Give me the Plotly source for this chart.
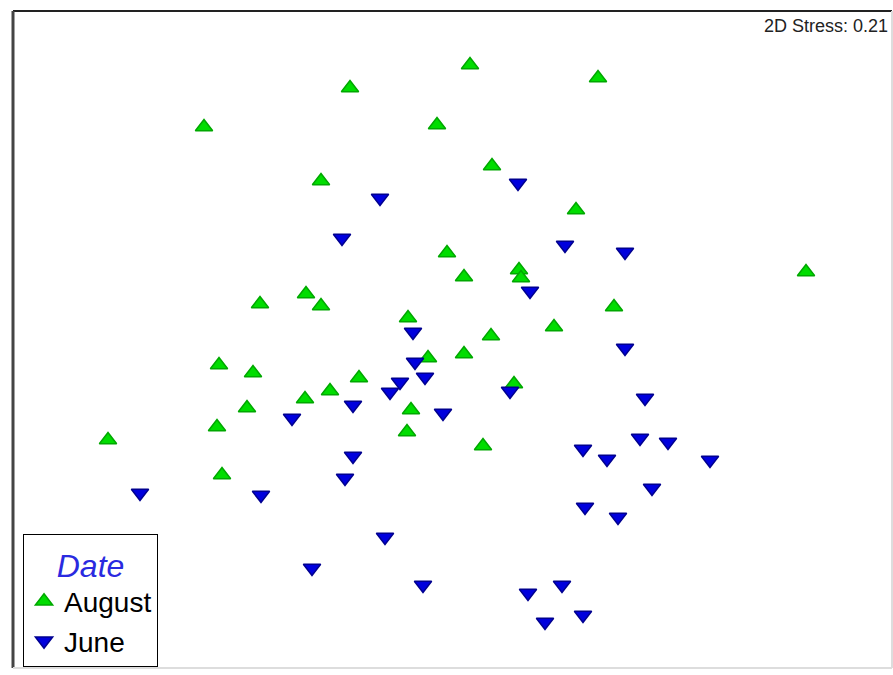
import plotly.graph_objects as go

# NMDS ordination coordinates (arbitrary MDS units)
august_x = [-2.46, -1.00, 0.20, 1.48, -0.13, -1.29, 0.42, 1.26, -0.03, 0.14,
            0.69, 0.71, 3.56, -1.90, -1.44, -1.29, 1.64, 1.04, -0.42, 0.41,
            0.14, -0.22, -2.31, -1.97, -0.91, -1.20, -1.45, -2.03, -0.39, 0.64,
            -2.33, -0.43, 0.33, -3.42, -2.28]
august_y = [2.13, 2.52, 2.75, 2.62, 2.15, 1.59, 1.74, 1.30, 0.87, 0.63,
            0.70, 0.62, 0.68, 0.36, 0.46, 0.34, 0.33, 0.13, 0.22, 0.04,
            -0.14, -0.18, -0.25, -0.33, -0.38, -0.51, -0.59, -0.68, -0.70, -0.44,
            -0.87, -0.92, -1.06, -1.00, -1.35]

june_x = [-0.70, 0.68, -1.08, 1.15, 1.75, 0.80, -0.37, 1.75, -0.35, -0.25,
          -0.50, -0.60, -0.97, -1.58, -0.07, 0.60, 1.95, 1.90, 2.18, 1.33,
          1.57, 2.60, -0.97, -1.05, 2.02, 1.35, 1.68, -3.10, -1.89, -0.65,
          -1.38, -0.27, 1.12, 0.78, 1.33, 0.95]
june_y = [1.42, 1.57, 1.02, 0.95, 0.88, 0.49, 0.08, -0.08, -0.22, -0.37,
          -0.42, -0.52, -0.65, -0.78, -0.73, -0.51, -0.58, -0.98, -1.02, -1.09,
          -1.19, -1.20, -1.16, -1.38, -1.48, -1.67, -1.77, -1.53, -1.55, -1.97,
          -2.28, -2.45, -2.45, -2.53, -2.75, -2.82]

stress_label = "2D Stress: 0.21"

fig = go.Figure()
fig.add_trace(go.Scatter(
    x=august_x, y=august_y, mode="markers", name="August",
    marker=dict(symbol="triangle-up", size=15, color="#00dd00",
                line=dict(color="#00a800", width=1.5)),
))
fig.add_trace(go.Scatter(
    x=june_x, y=june_y, mode="markers", name="June",
    marker=dict(symbol="triangle-down", size=15, color="#0000dd",
                line=dict(color="#000090", width=1.5)),
))

fig.add_annotation(
    text=stress_label, xref="paper", yref="paper", x=0.998, y=0.995,
    xanchor="right", yanchor="top", showarrow=False,
    font=dict(family="Arial, Liberation Sans", size=18, color="#222"),
)

# frame: dark top/left edges, light bottom/right edges
frame = [
    dict(x0=0, x1=1, y0=1, y1=1, color="#222222", width=2),
    dict(x0=0, x1=0, y0=0, y1=1, color="#444444", width=3),
    dict(x0=0, x1=1, y0=0, y1=0, color="#dddddd", width=2),
    dict(x0=1, x1=1, y0=0, y1=1, color="#dddddd", width=2),
]
for f in frame:
    fig.add_shape(type="line", xref="paper", yref="paper",
                  x0=f["x0"], x1=f["x1"], y0=f["y0"], y1=f["y1"],
                  line=dict(color=f["color"], width=f["width"]))

fig.update_layout(
    width=893, height=675,
    margin=dict(l=13, r=1, t=11, b=7),
    paper_bgcolor="white", plot_bgcolor="white",
    font=dict(family="Arial, Liberation Sans"),
    xaxis=dict(range=[-4.37, 4.42], visible=False),
    yaxis=dict(range=[-3.28, 3.29], visible=False),
    showlegend=True,
    legend=dict(
        x=0.0114, y=0.0015, xanchor="left", yanchor="bottom",
        bordercolor="black", borderwidth=1, bgcolor="white",
        font=dict(size=28, color="black"),
        title=dict(text="<i>Date</i>", side="top center",
                   font=dict(size=32, color="#2a2ae0")),
        itemwidth=30,
    ),
)

fig.write_html("out.html")
